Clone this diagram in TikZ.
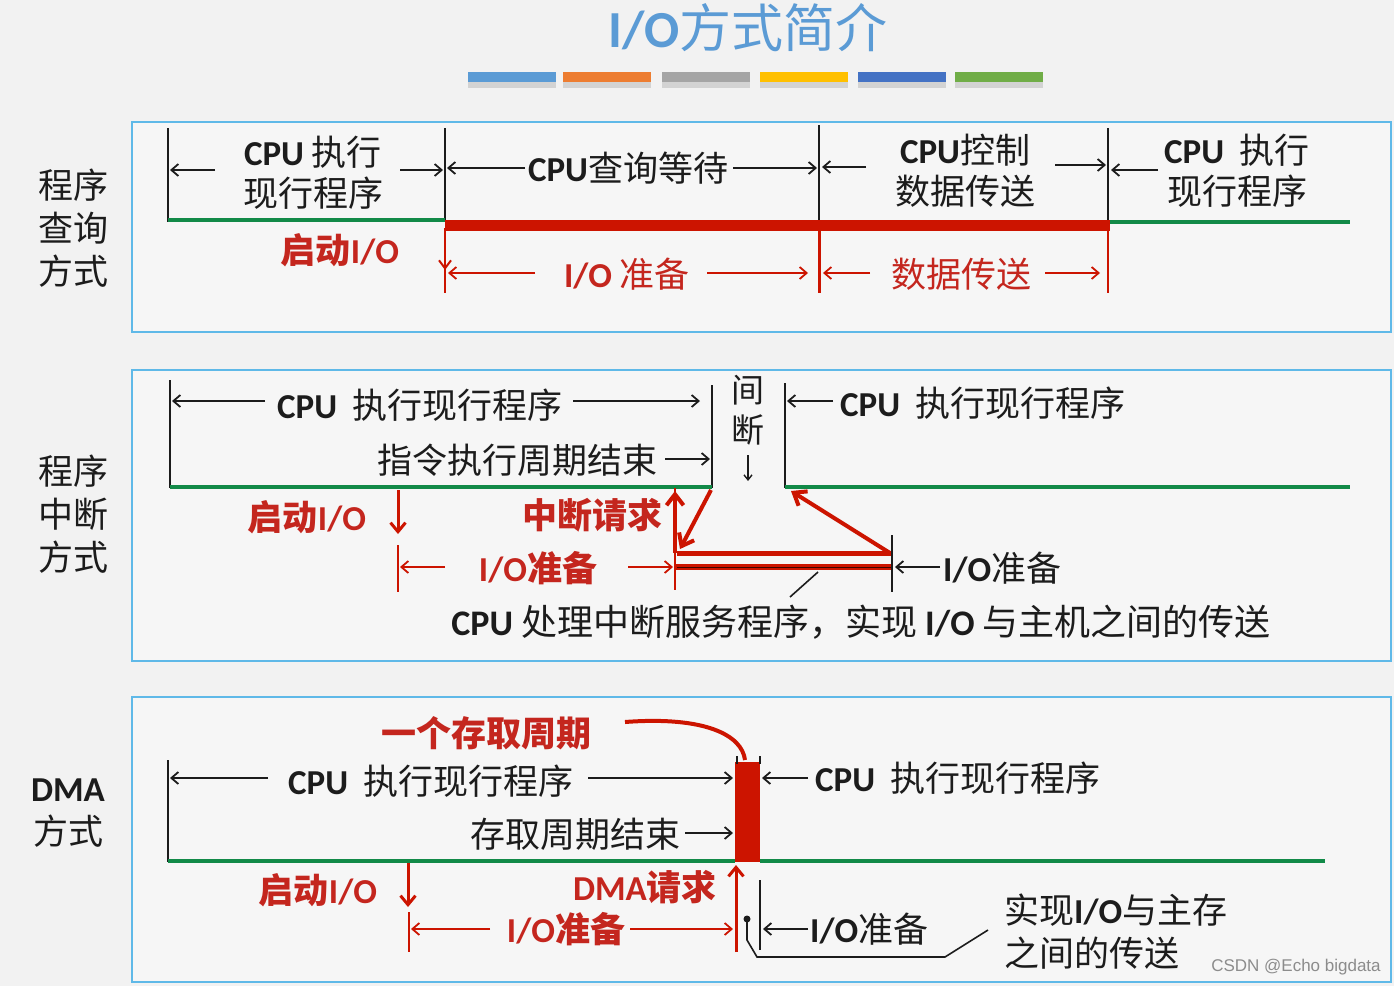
\documentclass[tikz,border=0pt]{standalone}
\usepackage{fontspec}
\usetikzlibrary{arrows.meta,calc}
\newfontfamily\cjk{Noto Sans CJK SC}
\newfontfamily\lat{Carlito}
\newfontfamily\wmfont{Liberation Sans}
\definecolor{bgc}{RGB}{242,242,242}
\definecolor{boxc}{RGB}{246,246,246}
\definecolor{boxline}{RGB}{95,185,232}
\definecolor{lred}{RGB}{204,20,0}
\definecolor{tred}{RGB}{196,38,30}
\definecolor{lgreen}{RGB}{18,138,72}
\definecolor{tblk}{RGB}{28,28,28}
\definecolor{tblue}{RGB}{91,155,213}
\definecolor{b1}{RGB}{91,155,213}
\definecolor{b2}{RGB}{237,125,49}
\definecolor{b3}{RGB}{165,165,165}
\definecolor{b4}{RGB}{255,192,0}
\definecolor{b5}{RGB}{68,114,196}
\definecolor{b6}{RGB}{112,173,71}
\newcommand{\LB}[1]{{\lat\bfseries #1}}
\tikzset{
  panel/.style={draw=boxline, line width=1.5pt, fill=boxc},
  blk/.style={font=\fontsize{35}{41}\selectfont\cjk, text=tblk, inner sep=0pt, align=center},
  rtxt/.style={font=\fontsize{35}{41}\selectfont\cjk\bfseries, text=tred, inner sep=0pt, align=center},
  side/.style={font=\fontsize{35}{43}\selectfont\cjk, text=tblk, inner sep=0pt, align=center},
  tick/.style={draw=tblk, line width=1.6pt},
  barr/.style={draw=tblk, line width=1.8pt, -{Straight Barb[length=7pt,width=12pt,line width=1.8pt]}},
  rarr/.style={draw=lred, line width=1.8pt, -{Straight Barb[length=7pt,width=12pt,line width=1.8pt]}},
  rdown/.style={draw=lred, line width=3pt, -{Straight Barb[length=9pt,width=15pt,line width=3pt]}},
  rthick/.style={draw=lred, line width=4pt, -{Straight Barb[length=11pt,width=17pt,line width=4pt]}},
  gline/.style={draw=lgreen, line width=4.5pt},
  redbar/.style={draw=lred, line width=11pt},
}
\begin{document}
\begin{tikzpicture}[x=1pt,y=-1pt]
\useasboundingbox (0,0) rectangle (1394,986);
\fill[bgc] (0,0) rectangle (1394,986);
% title
\node[font=\fontsize{52}{56}\selectfont\cjk, text=tblue, inner sep=0pt] (title) at (748,28) {\LB{I/O}方式简介};
\foreach \c/\xa in {b1/468,b2/563,b3/662,b4/760,b5/858,b6/955}{
  \fill[black!25, opacity=0.6] (\xa,82) rectangle ++(88,6);
  \fill[\c] (\xa,72) rectangle ++(88,10);
}
% panels
\draw[panel] (132,122) rectangle (1391,332);
\draw[panel] (132,370) rectangle (1391,661);
\draw[panel] (132,697) rectangle (1391,982);
% side labels
\node[side] (s1) at (73,228) {程序\\查询\\方式};
\node[side] (s2) at (73,514) {程序\\中断\\方式};
\node[side] (s3) at (68,813) {\LB{DMA}\\方式};

% ================= panel 1
\draw[tick] (168,128) -- (168,222);
\draw[tick] (445,128) -- (445,222);
\draw[tick] (819,125) -- (819,222);
\draw[tick] (1108,128) -- (1108,222);
\draw[gline] (168,220) -- (445,220);
\draw[redbar] (445,225) -- (1110,225);
\draw[gline] (1110,222) -- (1350,222);

\node[blk] (p1a) at (313,173) {\LB{CPU} 执行\\现行程序};
\draw[barr] (215,170) -- (170,170);
\draw[barr] (400,170) -- (443,170);
\node[blk] (p1b) at (628,168) {\LB{CPU}查询等待};
\draw[barr] (525,168) -- (447,168);
\draw[barr] (733,168) -- (817,168);
\node[blk] (p1c) at (965,171) {\LB{CPU}控制\\数据传送};
\draw[barr] (866,167) -- (822,167);
\draw[barr] (1055,165) -- (1106,165);
\node[blk] (p1d) at (1237,171) {\LB{CPU}\ \ 执行\\现行程序};
\draw[barr] (1158,170) -- (1111,170);

\node[rtxt] (p1e) at (340,250) {启动\LB{I/O}};
\draw[draw=lred, line width=2pt, -{Straight Barb[length=8pt,width=12pt,line width=2pt]}] (445,228) -- (445,270);
\draw[draw=lred, line width=2pt] (445,268) -- (445,293);
\draw[draw=lred, line width=3pt] (819,228) -- (819,293);
\draw[draw=lred, line width=2pt] (1108,228) -- (1108,293);
\node[rtxt, font=\fontsize{35}{41}\selectfont\cjk] (p1f) at (627,274) {\LB{I/O} 准备};
\draw[rarr] (535,273) -- (448,273);
\draw[rarr] (707,273) -- (808,273);
\node[rtxt, font=\fontsize{35}{41}\selectfont\cjk] (p1g) at (961,274) {数据传送};
\draw[rarr] (870,273) -- (823,273);
\draw[rarr] (1045,273) -- (1100,273);

% ================= panel 2
\draw[tick] (170,380) -- (170,488);
\draw[tick] (712,385) -- (712,488);
\draw[tick] (785,383) -- (785,488);
\draw[gline] (170,487) -- (712,487);
\draw[gline] (785,487) -- (1350,487);
\node[blk] (p2a) at (420,405) {\LB{CPU}\ \ 执行现行程序};
\draw[barr] (265,401) -- (172,401);
\draw[barr] (573,401) -- (700,401);
\node[blk] (p2b) at (517,460) {指令执行周期结束};
\draw[barr] (665,459) -- (710,459);
\node[blk, font=\fontsize{33}{40}\selectfont\cjk] (p2c) at (748,410) {间\\断};
\draw[draw=tblk, line width=1.4pt, -{Straight Barb[length=5pt,width=8pt,line width=1.4pt]}] (748,455) -- (748,481);
\node[blk, anchor=west] (p2d) at (840,403) {\LB{CPU}\ \ 执行现行程序};
\draw[barr] (833,401) -- (787,401);

\node[rtxt] (p2e) at (307,517) {启动\LB{I/O}};
\draw[rdown] (398,490) -- (398,534);
\draw[draw=lred, line width=1.6pt] (398,545) -- (398,592);
\node[rtxt] (p2f) at (538,568) {\LB{I/O}准备};
\draw[rarr] (445,567) -- (400,567);
\draw[rarr] (628,567) -- (673,567);
\node[rtxt] (p2g) at (592,515) {中断请求};
\draw[draw=lred, line width=1.6pt] (675,488) -- (675,590);
\draw[rthick] (675,553) -- (675,491);
\draw[rthick] (711,490) -- (680,549);
\draw[draw=lred, line width=5pt] (677,553) -- (892,553);
\draw[draw=lred, line width=6pt] (675,567) -- (892,567);
\draw[draw=black!70!lred, line width=1pt] (677,567) -- (892,567);
\draw[rthick] (890,553) -- (791,491);
\draw[tick] (892,535) -- (892,592);
\draw[barr] (940,567) -- (895,567);
\node[blk, anchor=west] (p2h) at (943,568) {\LB{I/O}准备};
\node[blk, font=\fontsize{36}{41}\selectfont\cjk] (p2i) at (861,622) {\LB{CPU} 处理中断服务程序，实现 \LB{I/O} 与主机之间的传送};
\draw[tick] (790,597) -- (818,572);

% ================= panel 3
\node[rtxt] (p3a) at (486,733) {一个存取周期};
\draw[draw=lred, line width=4pt] (625,722) .. controls (705,716) and (742,735) .. (745,760);
\fill[lred] (735,762) rectangle (760,862);
\draw[draw=tblk, line width=1.2pt] (737,756) -- (737,764);
\draw[draw=tblk, line width=1.2pt] (760,756) -- (760,764);
\draw[tick] (168,760) -- (168,862);
\draw[gline] (168,861) -- (735,861);
\draw[gline] (760,861) -- (1325,861);
\node[blk] (p3b) at (431,781) {\LB{CPU}\ \ 执行现行程序};
\draw[barr] (268,778) -- (170,778);
\draw[barr] (588,778) -- (733,778);
\node[blk] (p3c) at (575,834) {存取周期结束};
\draw[barr] (685,833) -- (733,833);
\draw[barr] (808,778) -- (762,778);
\node[blk, anchor=west] (p3d) at (815,778) {\LB{CPU}\ \ 执行现行程序};

\node[rtxt] (p3e) at (318,890) {启动\LB{I/O}};
\draw[rdown] (408,863) -- (408,907);
\draw[draw=lred, line width=1.6pt] (409,912) -- (409,952);
\node[rtxt] (p3f) at (566,929) {\LB{I/O}准备};
\draw[rarr] (490,929) -- (411,929);
\draw[rarr] (630,929) -- (733,929);
\node[rtxt] (p3g) at (645,887) {\LB{DMA}请求};
\draw[rdown] (736,952) -- (736,865);
\draw[tick] (760,880) -- (760,950);
\draw[barr] (808,929) -- (763,929);
\node[blk, anchor=west] (p3h) at (810,929) {\LB{I/O}准备};
\fill[tblk] (747,919) circle (3.5);
\coordinate (d1) at (747,919);
\coordinate (d2) at (988,930);
\draw[draw=tblk, line width=1.6pt] (d1) -- (747,940) -- (757,957) -- (945,957) -- (d2);
\node[blk, anchor=west, align=left, font=\fontsize{35}{43}\selectfont\cjk] (p3i) at (1004,932) {实现\LB{I/O}与主存\\之间的传送};
\node[font=\fontsize{17}{20}\selectfont\wmfont, text=black!45, inner sep=0pt] (wm) at (1296,967) {CSDN @Echo bigdata};
\end{tikzpicture}
\end{document}
